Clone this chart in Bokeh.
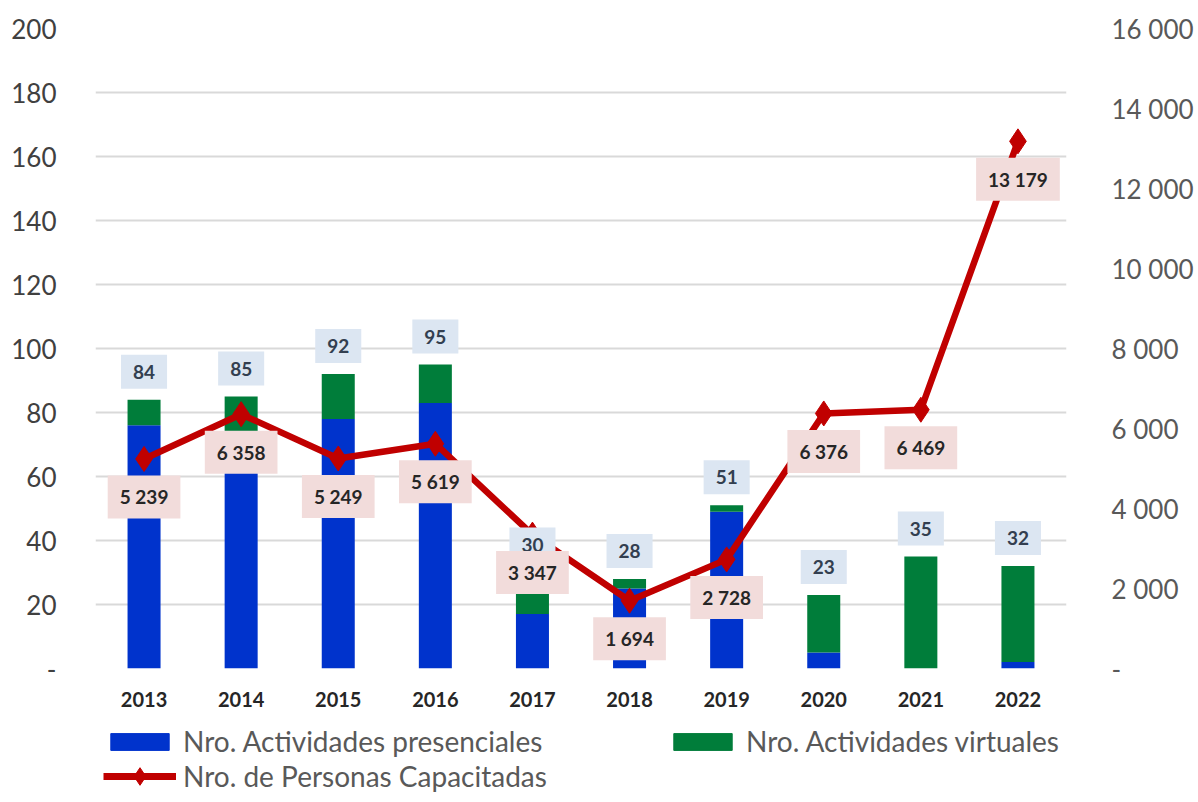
from bokeh.plotting import figure
from bokeh.layouts import column
from bokeh.models import (Range1d, FactorRange, LinearAxis, FixedTicker, Label,
                          Legend, LegendItem, ColumnDataSource)
from bokeh.embed import file_html
from bokeh.resources import INLINE

# ---- data ----
years = ["2013", "2014", "2015", "2016", "2017", "2018", "2019", "2020", "2021", "2022"]
presenciales = [76, 74, 78, 83, 17, 25, 49, 5, 0, 2]
virtuales = [8, 11, 14, 12, 13, 3, 2, 18, 35, 30]
totales = [84, 85, 92, 95, 30, 28, 51, 23, 35, 32]
personas = [5239, 6358, 5249, 5619, 3347, 1694, 2728, 6376, 6469, 13179]
left_ticks = [0, 20, 40, 60, 80, 100, 120, 140, 160, 180, 200]
right_ticks = [0, 2000, 4000, 6000, 8000, 10000, 12000, 14000, 16000]
legend_labels = ["Nro. Actividades presenciales", "Nro. Actividades virtuales",
                 "Nro. de Personas Capacitadas"]

BLUE = "#0033CC"
GREEN = "#007D3A"
RED = "#C00000"
FONT = "Lato"
W = 1196


def fmt(v):
    return "{:,}".format(v).replace(",", " ")


p = figure(width=W, height=710, x_range=FactorRange(*years, range_padding=0),
           y_range=Range1d(0, 200), output_backend="svg", toolbar_location=None,
           min_border_left=95, min_border_right=123, min_border_top=28,
           min_border_bottom=42)
p.extra_y_ranges = {"right": Range1d(0, 16000)}
p.outline_line_color = None
p.xgrid.grid_line_color = None
p.ygrid.grid_line_color = "#D9D9D9"
p.ygrid.grid_line_width = 2
p.ygrid.ticker = FixedTicker(ticks=left_ticks)

src = ColumnDataSource(dict(years=years, presenciales=presenciales, virtuales=virtuales))
bars = p.vbar_stack(["presenciales", "virtuales"], x="years", width=0.34, source=src,
                    color=[BLUE, GREEN], line_color=None)

ln = p.line(years, personas, y_range_name="right", line_width=6.5, line_color=RED)
mk = p.scatter(years, personas, y_range_name="right", marker="diamond", size=25,
               fill_color=RED, line_color=RED)

# left axis
ya = p.yaxis[0]
ya.ticker = FixedTicker(ticks=left_ticks)
ya.major_label_overrides = {0: "-"}
ya.axis_line_color = None
ya.major_tick_line_color = None
ya.minor_tick_line_color = None
ya.major_label_standoff = 33
ya.major_label_text_font = FONT
ya.major_label_text_font_size = "26px"
ya.major_label_text_color = "#404040"

# right axis
ra = LinearAxis(y_range_name="right", ticker=FixedTicker(ticks=right_ticks))
ra.major_label_overrides = {t: ("-" if t == 0 else fmt(t)) for t in right_ticks}
ra.axis_line_color = None
ra.major_tick_line_color = None
ra.minor_tick_line_color = None
ra.major_label_standoff = 39
ra.major_label_text_font = FONT
ra.major_label_text_font_size = "26px"
ra.major_label_text_color = "#595959"
p.add_layout(ra, "right")

xa = p.xaxis[0]
xa.axis_line_color = None
xa.major_tick_line_color = None
xa.major_label_standoff = 17
xa.major_label_text_font = FONT
xa.major_label_text_font_size = "20px"
xa.major_label_text_font_style = "bold"
xa.major_label_text_color = "#262626"

# data labels: totals (factor centre i + 0.5 in the categorical range)
for i, t in enumerate(totales):
    p.add_layout(Label(x=i + 0.5, y=t, y_offset=28, text=str(t), text_align="center",
                       text_baseline="middle", text_font=FONT, text_font_size="19px",
                       text_font_style="bold", text_color="#333F50",
                       background_fill_color="#DCE6F2", padding=(12, 10)))

# data labels: personas
for i, v in enumerate(personas):
    p.add_layout(Label(x=i + 0.5, y=v, y_range_name="right", y_offset=-38, text=fmt(v),
                       text_align="center", text_baseline="middle", text_font=FONT,
                       text_font_size="19px", text_font_style="bold",
                       text_color="#262626", background_fill_color="#F2DCDB",
                       padding=(12, 10)))

# ---- legend strip (separate figure so it is not clipped) ----
lf = figure(width=W, height=88, x_range=Range1d(0, 1), y_range=Range1d(0, 1),
            output_backend="svg", toolbar_location=None, x_axis_type=None,
            y_axis_type=None, min_border=0)
lf.outline_line_color = None
lf.grid.visible = False
# off-screen stand-in glyphs, only used to draw the legend swatches
lb = lf.vbar(x=[-5], top=[-5], width=1, color=BLUE)
lg = lf.vbar(x=[-5], top=[-5], width=1, color=GREEN)
ll = lf.line(x=[-6, -5], y=[-5, -5], line_width=7, line_color=RED)
lm = lf.scatter(x=[-5], y=[-5], marker="diamond", size=22, fill_color=RED, line_color=RED)

legend_kw = dict(glyph_width=73, glyph_height=21, label_text_font=FONT,
                 label_text_font_size="28px", label_text_color="#595959",
                 padding=0, margin=0, spacing=0, border_line_color=None,
                 background_fill_alpha=0, label_standoff=7, label_height=32)
lf.add_layout(Legend(items=[LegendItem(label=legend_labels[0], renderers=[lb])],
                     location=(8, 40), **legend_kw))
lf.add_layout(Legend(items=[LegendItem(label=legend_labels[1], renderers=[lg])],
                     location=(571, 40), **legend_kw))
kw3 = dict(legend_kw, glyph_height=44)
lf.add_layout(Legend(items=[LegendItem(label=legend_labels[2], renderers=[ll, lm])],
                     location=(8, 0), **kw3))

layout = column(p, lf, spacing=0)
open("out.html", "w").write(file_html(layout, INLINE))
